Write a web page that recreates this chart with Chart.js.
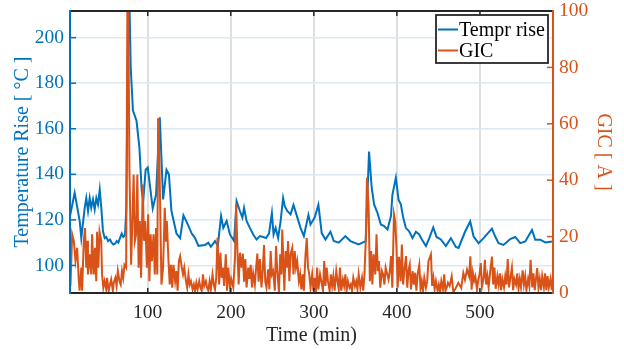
<!DOCTYPE html>
<html>
<head>
<meta charset="utf-8">
<script src="https://cdn.jsdelivr.net/npm/chart.js@4.4.1/dist/chart.umd.min.js"></script>
<style>
html,body{margin:0;padding:0;background:#fff;}
#wrap{width:624px;height:350px;}
</style>
</head>
<body>
<div id="wrap"><canvas id="c" width="624" height="350"></canvas></div>
<script>
// ---- data ----
const seriesNames = ["Tempr rise", "GIC"];
const xTicks = [100, 200, 300, 400, 500];
const leftTicks = [100, 120, 140, 160, 180, 200];
const rightTicks = [0, 20, 40, 60, 80, 100];

const tempTime = [6,12,18.1,20,24.1,26,28.1,30.1,32,34.1,36.1,38.1,40.1,42.2,44.1,46.1,48.2,50.1,52.2,54.6,56.6,58.6,60.6,62.7,64.6,66.6,68.7,70.6,72.6,74.2,75.7,77.5,79.5,82.2,86.5,90,92.7,94.5,97.5,100,102,106,110,114.5,118.5,122.6,125.5,128.5,134.6,139,143,147,153,157,161,169,173,176,181,184.4,188.3,191,195,199,204,207,211,214,216,219,223,227,231,235,239,242.5,246,249.5,251.5,254,257,260,263,265,268,272,275.5,279,284,288,293.5,296,301,305.5,309.5,314,320,324,330,338,344,354,362.5,366.5,369.7,372.6,376.6,380.7,384.7,388.7,392.9,394.6,398.8,402,404.8,407.6,410.8,414.8,418.8,422.9,426.9,430.1,435,439,443.8,447.8,453,459,465,471,474.3,482.3,488.3,492.4,498.4,504.4,514.5,518.4,522.4,528.4,536.5,542.5,548.6,554.6,562.7,566.6,572.7,578.7,586.7];
const tempRise = [120.9,131.9,119.5,112,125.3,129.6,123.9,129.6,125.3,129,124.6,129.6,126.8,133.3,125.3,115,112,112.5,110.7,111.4,110,109.2,109.5,110.7,110,112,114,112.5,113.3,125,180,225,187,168,163.5,151.6,133,128,142,143,137,125,131,165,129,142,140,124,114,112,122,119,114,112,108.6,109,110,108.2,110.7,108.6,121.7,116.5,119.5,113.6,110.7,128.2,123.9,121,125.3,119.5,116.5,113.6,111.4,112.9,112.5,112,114,123,113.6,116.5,112,119.5,129.6,126,123.9,122.4,126.6,122.4,116.5,112.9,122.2,118,121,126.6,114.2,111.4,114.8,110.7,110,112.9,110.7,109.2,110.7,150,134,126.8,123.1,118,117.3,115.8,121.7,131,138.5,128.9,126.8,121,116.5,115,112,114.8,113.6,111.4,108.5,112,116.7,112.5,111.4,108.5,112,108.1,107.7,115,119.3,112.7,109.8,112,116.2,112.7,109.8,109,111.6,112.5,109.8,110.5,115.6,111.3,111.3,110.1,110.5];

const gicTime = [6,7,9,11,13,15,17,18,20,21,23,24.5,26,27,28,30,32,33,35,36.5,38,39,40.5,42,44,45,46.5,48,50,51,53,54.5,56,58,59,61,62.5,64,66,67.5,69,70.5,72,74,75.5,76.5,78,80,81.5,83,84.5,86,87.5,89,90.5,92,94,95.5,97,99,100.5,102,103.5,105,107,108.5,110,111.5,112.5,113.5,115,116.5,118.5,120.5,122,123,125,126.5,128,129.5,131,133,134.5,136,137.5,139,141,142.5,144,146,147.5,149,150.5,152,154,155.5,157,158.5,160,162,163.5,165,166.5,168,170,171.5,173,174.5,176,178,179.5,181,182.5,184,186,187.5,189,190.5,192,194,195.5,197,199,200.5,203,205,206.5,208,209.5,211,213,214.5,216,217.5,219,221,222.5,224,225.5,227,229,230.5,232,233.5,235,237,238.5,240,241.5,243,245,246.5,248,249.5,251,253,254.5,256,258,259.5,261,262,264.5,266,267.5,269,270.5,272,274,275.5,277,278.5,280,282,283.5,285,286.5,288,290,291.5,293,294.5,296,298,299.5,301,302.5,304,305.5,307.5,309,311,312.5,314,315.5,317,319,320.5,322,323.5,325,327,328.5,330,331.5,333,335,336.5,338,339.5,341,343,344.5,346,347.5,349.5,351,352.5,354,356,358,359.5,361,362.5,364,366,367.5,369,370.5,372,374,375.5,377,378.5,380,382,383.5,385,386.5,388.5,390,391.5,393,394.5,396.5,398,399.5,401,402.5,404.5,406,407.5,409,411,412.5,414,415.5,417,419,420.5,422,423.5,425,427,428.5,430,431.5,433,435,436.5,438,441,442.5,444,445.5,447,449,450.5,452,453.5,455.5,457,458.5,460,461.5,463.5,466,468,470,474,477.5,480,482,484.5,487,488.5,490,491.5,493,494.5,496.5,498,499.5,501,502.5,504.5,506,507.5,509,510.5,512.5,514.5,516,517.5,519,521,522.5,524,525.5,527,529,530.5,532,533.5,535,537,538.5,540,541.5,543.5,545,546.5,548,549.5,551.5,553,554.5,556,558,559.5,561,563,564.5,566,569,570.5,572,573.5,575,577,578.5,580,581.5,583,585,586.5,588];
const gicValue = [23,2.6,20.8,18.5,11.5,16,4.4,0.8,9,0.8,18.5,23,9,18.5,6.6,13.7,6.6,20.8,6.6,16,4.2,21.7,9,21.7,18.5,6.6,1.9,4.2,1.3,5.4,0.8,3,4.8,0.8,3.6,5.4,2.5,7.8,4.2,3,7.8,5.4,10,9,102,104,43,10,25.5,42,18.5,20.8,42,9,25.5,5.4,38.5,18.5,25.5,9,27.9,4.2,20.8,11.3,20.8,6.6,23,6.6,62,55,30.6,3,9,30.2,18.5,25.5,11.3,3,10,1.9,10,4.2,7.8,0.8,11.3,13,9,6.6,9,4.2,1.9,6.6,3,4.2,1.3,3,0.8,3.6,1.3,4.2,1.9,0.8,6.6,2.5,4.2,1.9,0.8,4.2,1.3,6.6,3,1.3,5.4,19.6,3,14.3,5.4,9,2.5,13.7,0.8,9,1.9,5,2,12,31.5,15,3,14.3,9,14,4,12,2,9,5,10,2,7,3,9,14,4,12,2,8,17,4,1.9,8.4,1.3,14.9,6.6,7.8,0.8,16.7,7.8,0.3,13.7,6.6,22.5,0.8,14.9,9,18.4,4.2,13.7,16,6.6,14.9,9,11.3,4.2,6.6,1.3,6.6,0.8,13.7,19.5,9,6.6,1.9,6.6,0.8,5.4,0.3,9,1.3,6.6,4.2,0.8,11.3,2.5,9,4.2,0.8,6.6,2.5,6,0.8,7.8,4.2,1.3,9,0.8,4.8,2.5,6.6,0.8,4.2,1.9,3,0.8,5.4,2.5,4.2,1.3,6.6,1.9,5.4,0.8,6.6,18.4,40.9,30.2,4.2,14.9,3,13.7,6.6,20.8,7.8,11.3,1.9,7.8,6.6,3,9,6.6,4.8,7.8,13.1,1.9,27.9,25.5,16,1.9,12.8,4.2,17.2,3,7.8,13.1,1.9,7.8,10,1.3,7.8,3,7.2,0.8,6.6,10,1.3,4.2,0.8,5.4,1.9,4.2,11.3,13.7,2.5,5.4,1.3,4.2,0.8,3,0.3,4.2,1.3,6.6,0.8,1.9,3.6,2.5,5.9,0.3,1.2,3.6,1.8,7.1,4.7,8.3,5.9,13,1.2,7.1,4.3,5.9,1.2,4.7,6.5,10.6,2.3,5.3,11.8,3,6,2,8,12.9,3,9,1.5,6,3,7,1,5,2,6,3,12,2,6,9,1,5,3,7,1.5,5,2,8,3,6,1,5,2.5,11.8,2,7,1,8.8,2,5,1,6,2,7,1,6,2,5,1,6];

// ---- styling ----
const BLUE = "#0072BD", ORANGE = "#D95319", DARK = "#262626";
const FONT = "'Liberation Serif', 'Times New Roman', serif";
const TICK_SIZE = 19.5, TITLE_SIZE = 20;

const tempPoints = tempTime.map((t, i) => ({x: t, y: tempRise[i]}));
const gicPoints = gicTime.map((t, i) => ({x: t, y: gicValue[i]}));

function noPad(s) { s.paddingTop = 0; s.paddingBottom = 0; s.paddingLeft = 0; s.paddingRight = 0; }

const framePlugin = {
  id: "frame",
  afterDatasetsDraw(chart) {
    const ctx = chart.ctx, a = chart.chartArea;
    const sx = chart.scales.x, sl = chart.scales.y, sr = chart.scales.y2;
    ctx.save();
    ctx.lineCap = "butt";
    ctx.strokeStyle = DARK; ctx.lineWidth = 1.5;
    xTicks.forEach(v => {
      const p = sx.getPixelForValue(v);
      ctx.beginPath();
      ctx.moveTo(p, a.bottom); ctx.lineTo(p, a.bottom - 5);
      ctx.moveTo(p, a.top); ctx.lineTo(p, a.top + 5);
      ctx.stroke();
    });
    ctx.strokeStyle = BLUE;
    leftTicks.forEach(v => {
      const p = sl.getPixelForValue(v);
      ctx.beginPath(); ctx.moveTo(a.left, p); ctx.lineTo(a.left + 6, p); ctx.stroke();
    });
    ctx.strokeStyle = ORANGE;
    rightTicks.forEach(v => {
      const p = sr.getPixelForValue(v);
      ctx.beginPath(); ctx.moveTo(a.right, p); ctx.lineTo(a.right - 6, p); ctx.stroke();
    });
    ctx.lineWidth = 2;
    ctx.strokeStyle = DARK;
    ctx.beginPath();
    ctx.moveTo(a.left, a.top); ctx.lineTo(a.right, a.top);
    ctx.moveTo(a.left, a.bottom); ctx.lineTo(a.right, a.bottom);
    ctx.stroke();
    ctx.strokeStyle = BLUE;
    ctx.beginPath(); ctx.moveTo(a.left, a.top - 1); ctx.lineTo(a.left, a.bottom + 1); ctx.stroke();
    ctx.strokeStyle = ORANGE;
    ctx.beginPath(); ctx.moveTo(a.right, a.top - 1); ctx.lineTo(a.right, a.bottom + 1); ctx.stroke();

    // legend
    const bw = 112, bh = 48;
    const bx = a.right - 5 - bw, by = a.top + 4;
    ctx.fillStyle = "#fff";
    ctx.fillRect(bx, by, bw, bh);
    ctx.strokeStyle = DARK; ctx.lineWidth = 1.8;
    ctx.strokeRect(bx, by, bw, bh);
    const rows = [chart.data.datasets[0], chart.data.datasets[1]];
    ctx.font = TITLE_SIZE + "px " + FONT;
    ctx.textBaseline = "alphabetic";
    ctx.textAlign = "left";
    rows.forEach((ds, i) => {
      const cy = by + 14.5 + i * 21;
      ctx.strokeStyle = ds.borderColor; ctx.lineWidth = 2;
      ctx.beginPath(); ctx.moveTo(bx + 2, cy); ctx.lineTo(bx + 22, cy); ctx.stroke();
      ctx.fillStyle = "#000";
      ctx.fillText(ds.label, bx + 23, cy + 6.5);
    });
    ctx.restore();
  }
};

new Chart(document.getElementById("c"), {
  type: "line",
  data: {
    datasets: [
      {label: seriesNames[0], data: tempPoints, yAxisID: "y", borderColor: BLUE, borderWidth: 2, pointRadius: 0, tension: 0, order: 2, clip: 0},
      {label: seriesNames[1], data: gicPoints, yAxisID: "y2", borderColor: ORANGE, borderWidth: 2, pointRadius: 0, tension: 0, order: 1, clip: 0}
    ]
  },
  options: {
    responsive: false,
    devicePixelRatio: 1,
    animation: false,
    events: [],
    layout: {padding: {top: 11, left: 0, right: 0, bottom: 0}},
    plugins: {legend: {display: false}, tooltip: {enabled: false}},
    scales: {
      x: {
        type: "linear", position: "bottom", min: 6.4, max: 588,
        afterBuildTicks: s => { s.ticks = xTicks.map(v => ({value: v})); },
        afterFit: s => { s.height = 57; noPad(s); },
        grid: {color: "#dfdfdf", lineWidth: 2, drawTicks: false},
        border: {display: false},
        ticks: {color: DARK, font: {family: FONT, size: TICK_SIZE}, padding: 8, maxRotation: 0, autoSkip: false},
        title: {display: true, text: "Time (min)", color: DARK, font: {family: FONT, size: TITLE_SIZE}, padding: {top: 0, bottom: 2}}
      },
      y: {
        type: "linear", position: "left", min: 87.9, max: 211.7,
        afterBuildTicks: s => { s.ticks = leftTicks.map(v => ({value: v})); },
        afterFit: s => { s.width = 70; noPad(s); },
        grid: {color: "rgb(217,234,245)", lineWidth: 1.5, drawTicks: false},
        border: {display: false},
        ticks: {color: BLUE, font: {family: FONT, size: TICK_SIZE}, padding: 6},
        title: {display: true, text: "Temperature Rise [ °C ]", color: BLUE, font: {family: FONT, size: TITLE_SIZE}, padding: {top: 11, bottom: 0}}
      },
      y2: {
        type: "linear", position: "right", min: 0, max: 100,
        afterBuildTicks: s => { s.ticks = rightTicks.map(v => ({value: v})); },
        afterFit: s => { s.width = 71; noPad(s); },
        grid: {display: false, drawTicks: false},
        border: {display: false},
        ticks: {color: ORANGE, font: {family: FONT, size: TICK_SIZE}, padding: 6},
        title: {display: true, text: "GIC [ A ]", color: ORANGE, font: {family: FONT, size: TITLE_SIZE}, padding: {top: 9, bottom: 0}}
      }
    }
  },
  plugins: [framePlugin]
});
</script>
</body>
</html>
